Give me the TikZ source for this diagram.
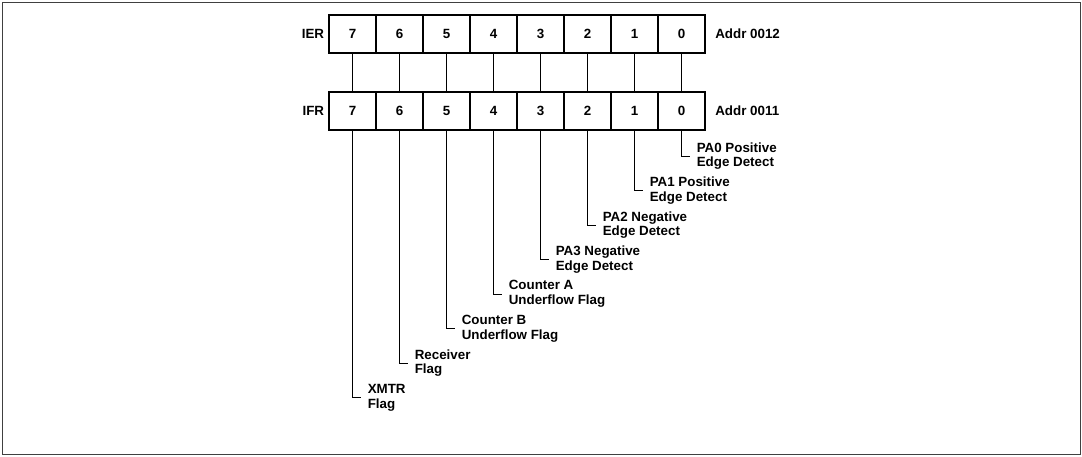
\documentclass[tikz,border=0pt]{standalone}
\usepackage{fontspec}
\setmainfont{Liberation Sans}
\tikzstyle{bitcell}=[rectangle,minimum width=11.75mm,minimum height=9.5mm,inner sep=0pt,draw=black,line width=1.5pt,font=\fontsize{9.5}{10.6}\selectfont\bfseries]
\tikzstyle{reglbl}=[inner sep=0.9mm,font=\fontsize{9.5}{10.6}\selectfont\bfseries]
\tikzstyle{flag}=[anchor=west,align=left,inner xsep=1.75mm,inner ysep=0pt,font=\fontsize{9.5}{10.6}\selectfont\bfseries]
\tikzstyle{link}=[line width=0.7pt]
\tikzstyle{frame}=[line width=0.6pt,draw=black!75]

\begin{document}
\begin{tikzpicture}[node distance = 11.75mm]
\useasboundingbox (0,0) rectangle (270.5mm,-114mm);
\draw[frame] (0.5mm,-0.5mm) rectangle (270mm,-113.5mm);

% enable register
\node (ier7) [bitcell] at (88.125mm,-8.5mm) {7};
\node (ier6) [bitcell,right of=ier7] {6};
\node (ier5) [bitcell,right of=ier6] {5};
\node (ier4) [bitcell,right of=ier5] {4};
\node (ier3) [bitcell,right of=ier4] {3};
\node (ier2) [bitcell,right of=ier3] {2};
\node (ier1) [bitcell,right of=ier2] {1};
\node (ier0) [bitcell,right of=ier1] {0};
\node (ierlbl) [reglbl,anchor=east] at (ier7.west) {IER};
\node (ieraddr) [reglbl,anchor=west,inner xsep=2.25mm] at (ier0.east) {Addr 0012};

% flag register
\node (ifr7) [bitcell,below of=ier7,yshift=-7.5mm] {7};
\node (ifr6) [bitcell,right of=ifr7] {6};
\node (ifr5) [bitcell,right of=ifr6] {5};
\node (ifr4) [bitcell,right of=ifr5] {4};
\node (ifr3) [bitcell,right of=ifr4] {3};
\node (ifr2) [bitcell,right of=ifr3] {2};
\node (ifr1) [bitcell,right of=ifr2] {1};
\node (ifr0) [bitcell,right of=ifr1] {0};
\node (ifrlbl) [reglbl,anchor=east] at (ifr7.west) {IFR};
\node (ifraddr) [reglbl,anchor=west,inner xsep=2.25mm] at (ifr0.east) {Addr 0011};

% flag names
\node (f0) [flag] at ([xshift=2mm,yshift=-6.25mm]ifr0.south) {PA0 Positive\\Edge Detect};
\node (f1) [flag] at ([xshift=2mm,yshift=-14.875mm]ifr1.south) {PA1 Positive\\Edge Detect};
\node (f2) [flag] at ([xshift=2mm,yshift=-23.5mm]ifr2.south) {PA2 Negative\\Edge Detect};
\node (f3) [flag] at ([xshift=2mm,yshift=-32.125mm]ifr3.south) {PA3 Negative\\Edge Detect};
\node (f4) [flag] at ([xshift=2mm,yshift=-40.75mm]ifr4.south) {Counter A\\Underflow Flag};
\node (f5) [flag] at ([xshift=2mm,yshift=-49.375mm]ifr5.south) {Counter B\\Underflow Flag};
\node (f6) [flag] at ([xshift=2mm,yshift=-58mm]ifr6.south) {Receiver\\Flag};
\node (f7) [flag] at ([xshift=2mm,yshift=-66.625mm]ifr7.south) {XMTR\\Flag};

\draw[link] (ier7) -- (ifr7);
\draw[link] (ier6) -- (ifr6);
\draw[link] (ier5) -- (ifr5);
\draw[link] (ier4) -- (ifr4);
\draw[link] (ier3) -- (ifr3);
\draw[link] (ier2) -- (ifr2);
\draw[link] (ier1) -- (ifr1);
\draw[link] (ier0) -- (ifr0);

\draw[link] (ifr0) |- (f0.west);
\draw[link] (ifr1) |- (f1.west);
\draw[link] (ifr2) |- (f2.west);
\draw[link] (ifr3) |- (f3.west);
\draw[link] (ifr4) |- (f4.west);
\draw[link] (ifr5) |- (f5.west);
\draw[link] (ifr6) |- (f6.west);
\draw[link] (ifr7) |- (f7.west);
\end{tikzpicture}
\end{document}
